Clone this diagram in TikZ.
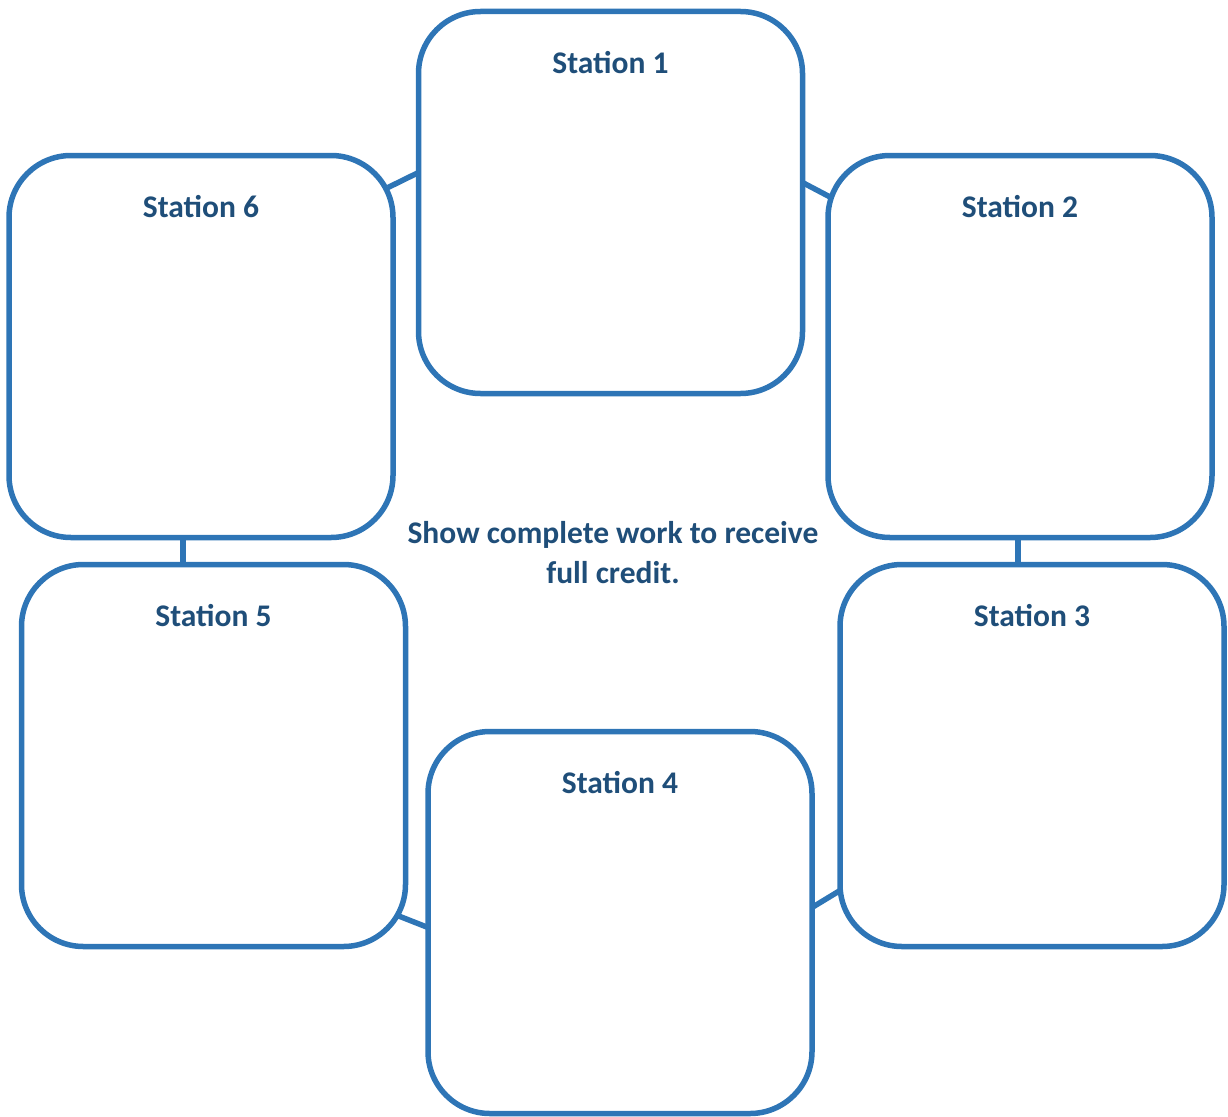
\documentclass[tikz,border=0pt]{standalone}
\usepackage{fontspec}
\setmainfont{Carlito}
\usetikzlibrary{calc}
\definecolor{boxblue}{HTML}{2E75B6}
\definecolor{textblue}{HTML}{1F4E79}
\begin{document}
\begin{tikzpicture}[x=1pt,y=-1pt,
  stationbox/.style={draw=boxblue, line width=5.5pt, rounded corners=62pt, rectangle, minimum width=384pt, minimum height=382pt, inner sep=0pt, outer sep=0pt},
  lbl/.style={text=textblue, font=\bfseries\fontsize{31.5}{40}\selectfont, anchor=base, inner sep=0pt},
  link/.style={draw=boxblue, line width=5.5pt}]
\useasboundingbox (0,0) rectangle (1228,1116);
\node[stationbox] (s1) at (610.5,202.5) {};
\node[stationbox] (s2) at (1020,346.5) {};
\node[stationbox] (s3) at (1032,755.5) {};
\node[stationbox] (s4) at (620,922.5) {};
\node[stationbox] (s5) at (213.5,755.5) {};
\node[stationbox] (s6) at (201,346.5) {};
\foreach \n/\t in {s1/1,s2/2,s3/3,s4/4,s5/5,s6/6}
  \node[lbl] (l\n) at ($(\n.north)+(0,62)$) {Station \t};
\node[lbl, align=center] (note) at (613,583) {Show complete work to receive\\full credit.};
\draw[link] ($(s6.north east)+(-5,32)$) -- ($(s1.north west)+(0,161)$);
\draw[link] ($(s1.north east)+(0,171)$) -- ($(s2.north west)+(3,42)$);
\draw[link] ($(s6.south)+(-18,0)$) coordinate (a) -- (a |- s5.north);
\draw[link] ($(s2.south)+(-2,0)$) coordinate (b) -- (b |- s3.north);
\draw[link] ($(s5.south east)+(-8,-31)$) -- ($(s4.north west)+(0,196)$);
\draw[link] ($(s4.north east)+(0,176)$) -- ($(s3.south west)+(0,-56)$);
\end{tikzpicture}
\end{document}
